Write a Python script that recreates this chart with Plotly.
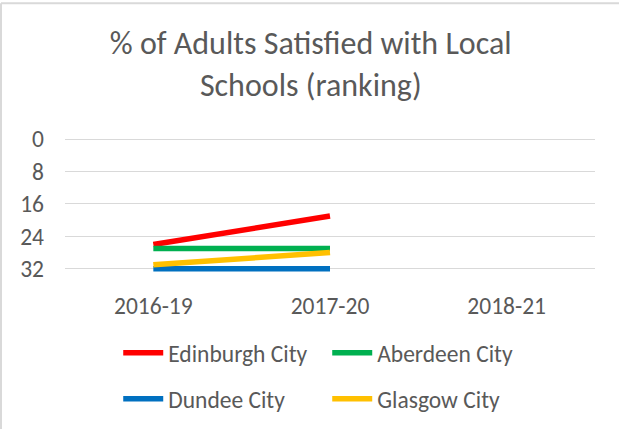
import plotly.graph_objects as go

# Data (ranking, lower is better -> axis reversed)
years = ["2016-19", "2017-20", "2018-21"]
edinburgh = [26, 19, None]
aberdeen = [27, 27, None]
dundee = [32, 32, None]
glasgow = [31, 28, None]

y_ticks = [0, 8, 16, 24, 32]

grey = "#595959"
font = "Calibri, Carlito, Lato, sans-serif"

series = [
    ("Edinburgh City", edinburgh, "#FF0000", "legend"),
    ("Aberdeen City", aberdeen, "#00B050", "legend"),
    ("Dundee City", dundee, "#0070C0", "legend2"),
    ("Glasgow City", glasgow, "#FFC000", "legend2"),
]

fig = go.Figure()
for name, vals, col, leg in series:
    fig.add_trace(go.Scatter(x=years, y=vals, name=name, mode="lines",
                             line=dict(color=col, width=5.5),
                             cliponaxis=False, legend=leg))

legend_style = dict(orientation="h", xref="container", yref="container",
                    xanchor="left", yanchor="middle", x=0.191,
                    font=dict(family=font, size=23.5, color=grey),
                    entrywidth=154, bgcolor="rgba(0,0,0,0)",
                    itemwidth=40, tracegroupgap=0)

# a little room below 32 so the bottom line isn't clipped
y_max = 32.8
plot_h = 130 * y_max / 32

fig.update_layout(
    width=619, height=429,
    margin=dict(l=65, r=24, t=139, b=429 - 139 - plot_h, autoexpand=False),
    paper_bgcolor="white", plot_bgcolor="white",
    font=dict(family=font, color=grey),
    title=dict(text="% of Adults Satisfied with Local<br>Schools (ranking)",
               x=0.502, xanchor="center", y=0.874, yanchor="middle",
               yref="container",
               font=dict(family=font, size=32, color=grey)),
    legend=dict(y=0.177, **legend_style),
    legend2=dict(y=0.070, **legend_style),
    showlegend=True,
)

fig.update_xaxes(range=[-0.5, 2.5], showgrid=False, showline=False,
                 zeroline=False, tickfont=dict(size=23.5, color=grey),
                 ticks="", ticklabelstandoff=17)
fig.update_yaxes(range=[y_max, 0], tickvals=y_ticks, showgrid=True,
                 gridcolor="#D9D9D9", gridwidth=1.3, zeroline=True,
                 zerolinecolor="#D9D9D9", zerolinewidth=1.3,
                 showline=False, tickfont=dict(size=23.5, color=grey),
                 ticks="", ticklabelstandoff=20)

# thin chart-area border on top and left edges (container-pixel positions)
ph = plot_h
fig.add_shape(type="line", xref="paper", yref="paper",
              x0=-64 / 530, x1=1 + 24 / 530, y0=1 + 136 / ph, y1=1 + 136 / ph,
              line=dict(color="#D9D9D9", width=2))
fig.add_shape(type="line", xref="paper", yref="paper",
              x0=-64 / 530, x1=-64 / 530, y0=1 + 136 / ph, y1=1 - 429 / ph,
              line=dict(color="#D9D9D9", width=2))

fig.write_html("out.html", config={"displayModeBar": False},
               post_script="document.body.style.margin='0';")
